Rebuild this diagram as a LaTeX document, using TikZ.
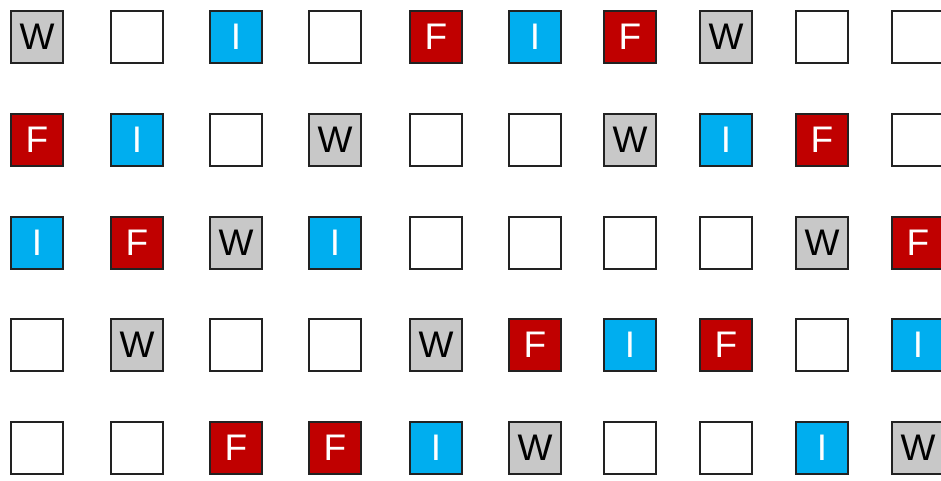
\documentclass[tikz,border=0pt]{standalone}
\usepackage{fontspec}
\setmainfont{Liberation Sans}
\definecolor{cw}{HTML}{C8C8C8}
\definecolor{cf}{HTML}{C00000}
\definecolor{ci}{HTML}{00AEEF}
\definecolor{edge}{HTML}{222222}
\def\labW{W}\def\labF{F}\def\labI{I}\def\labE{}
\tikzset{
  cell/.style={draw=edge, line width=2.2pt, minimum size=52.5pt, inner sep=0pt,
    font=\fontsize{37}{37}\selectfont},
  kindW/.style={fill=cw, text=black},
  kindF/.style={fill=cf, text=white},
  kindI/.style={fill=ci, text=white},
  kindE/.style={fill=white}
}
\begin{document}
\begin{tikzpicture}
\useasboundingbox (0,0) rectangle (941pt,480pt);
\clip (0,0) rectangle (941pt,480pt);
\foreach \row [count=\r] in {
  {W,E,I,E,F,I,F,W,E,E},
  {F,I,E,W,E,E,W,I,F,E},
  {I,F,W,I,E,E,E,E,W,F},
  {E,W,E,E,W,F,I,F,E,I},
  {E,E,F,F,I,W,E,E,I,W}} {
  \pgfmathsetmacro\yy{{443,340,237,135,32}[\r-1]}
  \foreach \k [count=\c] in \row {
    \pgfmathsetmacro\xx{{37,137,236,335,436,535,630,726,822,918}[\c-1]}
    \node[cell, kind\k] (c\r-\c) at (\xx pt,\yy pt) {\csname lab\k\endcsname};
  }
}
\end{tikzpicture}
\end{document}
